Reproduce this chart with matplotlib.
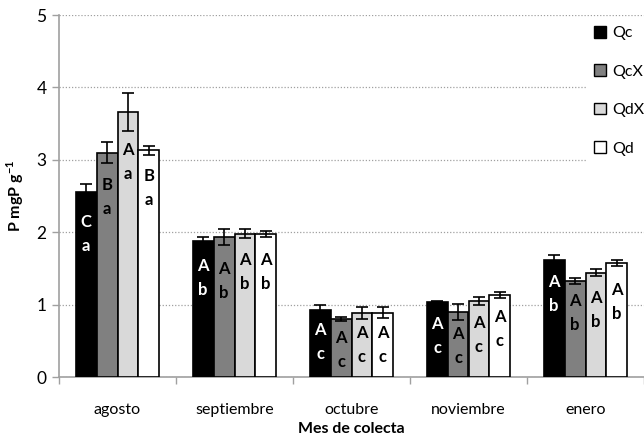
import matplotlib
matplotlib.use("Agg")
import matplotlib.pyplot as plt
import numpy as np
from matplotlib.patches import Patch

plt.rcParams['font.family'] = ['Lato', 'DejaVu Sans']
plt.rcParams['mathtext.fontset'] = 'custom'
plt.rcParams['mathtext.rm'] = 'Lato'
plt.rcParams['mathtext.bf'] = 'Lato:bold'

# ---- data ----
months = ["agosto", "septiembre", "octubre", "noviembre", "enero"]
series = ["Qc", "QcX", "QdX", "Qd"]

qc = [2.55, 1.88, 0.93, 1.04, 1.62]
qcx = [3.10, 1.93, 0.80, 0.90, 1.33]
qdx = [3.66, 1.98, 0.88, 1.05, 1.44]
qd = [3.13, 1.98, 0.89, 1.13, 1.57]

qc_err = [0.12, 0.06, 0.06, 0.01, 0.06]
qcx_err = [0.14, 0.11, 0.03, 0.11, 0.04]
qdx_err = [0.26, 0.06, 0.08, 0.05, 0.05]
qd_err = [0.06, 0.04, 0.08, 0.04, 0.04]

# letters: treatment comparison within month (upper) and month comparison (lower)
qc_letters = [("C", "a"), ("A", "b"), ("A", "c"), ("A", "c"), ("A", "b")]
qcx_letters = [("B", "a"), ("A", "b"), ("A", "c"), ("A", "c"), ("A", "b")]
qdx_letters = [("A", "a"), ("A", "b"), ("A", "c"), ("A", "c"), ("A", "b")]
qd_letters = [("B", "a"), ("A", "b"), ("A", "c"), ("A", "c"), ("A", "b")]

# ---- styling ----
fill_colors = ["#000000", "#808080", "#D9D9D9", "#FFFFFF"]
text_colors = ["white", "black", "black", "black"]
# distance (px) from bar top down to the upper letter
label_drop = [
    [30, 25, 20, 22, 22],
    [32, 32, 19, 22, 20],
    [38, 26, 20, 22, 25],
    [26, 26, 20, 22, 27],
]
line_gap = 24  # px between the two letters

values = [qc, qcx, qdx, qd]
errors = [qc_err, qcx_err, qdx_err, qd_err]
letters = [qc_letters, qcx_letters, qdx_letters, qd_letters]

W, H = 644, 442
fig = plt.figure(figsize=(W / 100, H / 100), dpi=100)
ax = fig.add_axes([59 / W, 65 / H, 585 / W, 362 / H])

x = np.arange(len(months))
bw = 0.179
offsets = (np.arange(len(series)) - 1.5) * bw
px_per_pt = 100 / 72

for i, name in enumerate(series):
    ax.bar(x + offsets[i], values[i], width=bw, color=fill_colors[i],
           edgecolor="black", linewidth=1.2, label=name, zorder=3)
    ax.errorbar(x + offsets[i], values[i], yerr=errors[i], fmt="none",
                ecolor="black", elinewidth=1.2, capsize=4, capthick=1.2,
                zorder=4)
    for j in range(len(months)):
        up, low = letters[i][j]
        d = label_drop[i][j]
        ax.annotate(up, (x[j] + offsets[i], values[i][j]),
                    xytext=(0, -d / px_per_pt), textcoords="offset points",
                    ha="center", va="center", fontsize=12, fontweight="bold",
                    color=text_colors[i], zorder=5)
        ax.annotate(low, (x[j] + offsets[i], values[i][j]),
                    xytext=(0, -(d + line_gap) / px_per_pt),
                    textcoords="offset points",
                    ha="center", va="center", fontsize=12, fontweight="bold",
                    color=text_colors[i], zorder=5)

ax.set_ylim(0, 5)
ax.set_xlim(-0.5, 4.49)
ax.set_yticks([0, 1, 2, 3, 4, 5])
ax.yaxis.grid(True, linestyle=(0, (1, 1.5)), color="#A0A0A0", linewidth=0.9,
              zorder=0)
ax.set_axisbelow(True)

# category boundaries as tick marks, names centred between them
ax.set_xticks(np.arange(-0.5, 5, 1.0))
ax.set_xticklabels([])
ax.set_xticks(x, minor=True)
ax.set_xticklabels(months, minor=True, fontsize=11.5)
ax.tick_params(axis="x", which="major", length=5, color="#A0A0A0", width=1)
ax.tick_params(axis="x", which="minor", length=0, pad=19)
ax.tick_params(axis="y", length=5, color="#A0A0A0", width=1, labelsize=12.5,
               pad=4)

for s in ["top", "right"]:
    ax.spines[s].set_visible(False)
for s in ["left", "bottom"]:
    ax.spines[s].set_color("#A0A0A0")
    ax.spines[s].set_linewidth(1.2)

ax.set_xlabel("Mes de colecta", fontsize=11.5, fontweight="bold", labelpad=3)
ax.set_ylabel(r"P mgP g$^{\mathbf{-1}}$", fontsize=11.5, fontweight="bold")
ax.yaxis.set_label_coords(-0.057, 0.5)

handles = [Patch(facecolor=c, edgecolor="black", linewidth=1.0)
           for c in fill_colors]
leg = fig.legend(handles, series, loc="upper left",
                 bbox_to_anchor=(586 / W, 1 - 18 / H), frameon=True,
                 fontsize=11.5, handlelength=0.75, handleheight=0.75,
                 handletextpad=0.4, labelspacing=1.5, borderpad=0.5,
                 borderaxespad=0)
leg.get_frame().set_facecolor("white")
leg.get_frame().set_edgecolor("none")
leg.get_frame().set_alpha(1)

fig.savefig("out.png", dpi=100)
